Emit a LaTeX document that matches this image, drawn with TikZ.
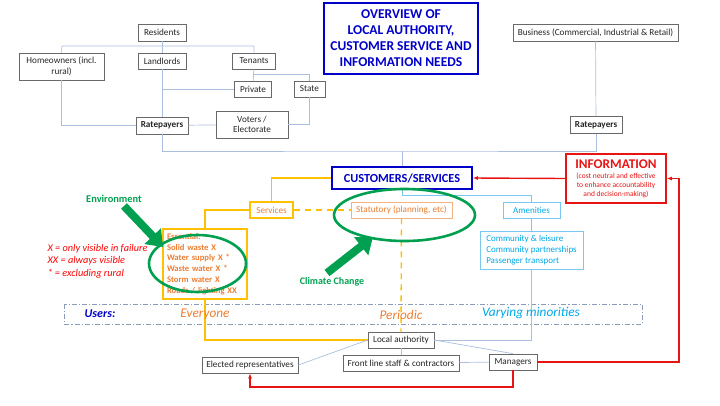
\documentclass[tikz,border=0pt]{standalone}
\usepackage{fontspec}
\setmainfont{Carlito}
\usetikzlibrary{arrows.meta}
\definecolor{linkblue}{RGB}{172,190,222}
\definecolor{boxgrey}{RGB}{105,105,105}
\definecolor{titleblue}{RGB}{0,0,200}
\definecolor{infored}{RGB}{232,20,20}
\definecolor{servyellow}{RGB}{255,192,0}
\definecolor{servorange}{RGB}{237,125,49}
\definecolor{statorange}{RGB}{244,177,131}
\definecolor{ameniblue}{RGB}{0,168,232}
\definecolor{amenibox}{RGB}{120,200,240}
\definecolor{ringgreen}{RGB}{0,160,80}
\definecolor{usersgrey}{RGB}{140,155,185}
\tikzset{
    plain box/.style={
        draw=boxgrey, line width=0.7pt, fill=white, text=black!85,
        inner sep=1pt, minimum height=16pt, align=center,
        font=\fontsize{9.2}{10.5}\selectfont
    },
    head box/.style={
        draw=titleblue, line width=1.6pt, fill=white, text=titleblue,
        align=center, font=\bfseries\fontsize{13.5}{16}\selectfont
    },
    info box/.style={
        draw=infored, line width=1.6pt, fill=white, text=infored,
        align=center, inner sep=2pt, font=\fontsize{7.5}{9}\selectfont
    },
    serv box/.style={
        draw=servyellow, line width=1.3pt, fill=white, text=servorange,
        inner sep=1pt, minimum height=16pt, font=\fontsize{9.2}{10.5}\selectfont
    },
    stat box/.style={
        draw=statorange, line width=0.7pt, fill=white, text=servorange,
        inner sep=1pt, minimum height=16pt, font=\fontsize{9.2}{10.5}\selectfont
    },
    amen box/.style={
        draw=amenibox, line width=0.8pt, fill=white, text=ameniblue,
        inner sep=1pt, minimum height=16pt, font=\fontsize{9}{10.7}\selectfont
    },
    link/.style={draw=linkblue, line width=0.7pt},
    amen link/.style={draw=amenibox, line width=0.8pt},
    serv link/.style={draw=servyellow, line width=1.4pt},
    stat link/.style={draw=servyellow, line width=1.4pt, dash pattern=on 6pt off 5pt},
    info link/.style={draw=infored, line width=1.4pt, -{Latex[length=5pt,width=4pt]}},
    green ring/.style={draw=ringgreen, line width=2.6pt},
    green push/.style={draw=ringgreen, line width=8pt,
        -{Triangle[width=22pt,length=15pt]}},
    green label/.style={text=ringgreen, font=\bfseries\fontsize{10.4}{12}\selectfont},
    users text/.style={font=\itshape\fontsize{13.3}{15}\selectfont}
}

\begin{document}
\begin{tikzpicture}[x=1pt,y=-1pt]
\useasboundingbox (0,0) rectangle (720,405);

% customer groups
\node[plain box, minimum width=48pt, minimum height=17pt] (residents) at (162,32.5) {Residents};
\node[plain box, minimum width=85pt, minimum height=27pt] (homeowners) at (61.5,66.5) {Homeowners (incl.\\rural)};
\node[plain box, minimum width=48pt] (landlords) at (162,61) {Landlords};
\node[plain box, minimum width=43pt] (tenants) at (254,61) {Tenants};
\node[plain box, minimum width=37pt] (private) at (253,89) {Private};
\node[plain box, minimum width=31pt] (state) at (309.5,89) {State};
\node[plain box, minimum width=52pt, minimum height=17pt, font=\bfseries\fontsize{9.2}{10.5}\selectfont] (ratesleft) at (162,125.5) {Ratepayers};
\node[plain box, minimum width=72pt, minimum height=27pt] (voters) at (252,124.5) {Voters /\\Electorate};
\node[plain box, minimum width=165pt, minimum height=17pt] (business) at (595.5,32.5) {Business (Commercial, Industrial \& Retail)};
\node[plain box, minimum width=52pt, minimum height=17pt, font=\bfseries\fontsize{9.2}{10.5}\selectfont] (ratesright) at (596,125) {Ratepayers};

\node[head box, minimum width=154pt, minimum height=71pt] (title) at (401,38.5)
    {OVERVIEW OF\\LOCAL AUTHORITY,\\CUSTOMER SERVICE AND\\INFORMATION NEEDS};

\coordinate (homebus) at (62,46);
\coordinate (tenfork) at (253.5,74);
\coordinate (ratebus) at (402,151);
\draw[link] (homeowners.north) -- (homebus) -| (tenants.north);
\draw[link] (residents) -- (landlords);
\draw[link] (landlords) -- (ratesleft);
\draw[link] (tenants) -- (private);
\draw[link] (tenfork) -| (state.north);
\draw[link] (private.west) -- (private.west -| landlords.south);
\draw[link] (homeowners.south) |- (ratesleft.west);
\draw[link] (ratesleft) -- (voters);
\draw[link] (voters.east) -| (state.south);
\draw[link] (ratesleft.south) |- (ratebus) -| (ratesright.south);
\draw[link] (business) -- (ratesright);

% services
\node[head box, font=\bfseries\fontsize{12.3}{14}\selectfont, minimum width=140pt, minimum height=22pt] (customers) at (402,178) {CUSTOMERS/SERVICES};
\draw[link] (ratebus) -- (customers.north);
\node[info box, minimum width=100pt, minimum height=49pt] (info) at (616,178.5)
    {{\bfseries\fontsize{13.3}{15}\selectfont INFORMATION}\\[1pt]
     (cost neutral and effective\\
     to enhance accountability\\
     and decision-making)};
\node[serv box, minimum width=43pt] (services) at (271.5,210) {Services};
\node[stat box, minimum width=101pt] (statutory) at (401.5,210) {Statutory (planning, etc)};
\node[amen box, minimum width=57pt] (amenities) at (531.5,210) {Amenities};
\node[amen box, minimum width=103pt, minimum height=38pt, align=left, inner sep=3pt] (community) at (531.5,250)
    {Community \& leisure\\Community partnerships\\Passenger transport};
\node[serv box, text width=76pt, minimum height=70pt, align=left, inner sep=4pt,
      font=\bfseries\fontsize{8.6}{10.7}\selectfont] (essential) at (205,264)
    {Essential:\\Solid waste X\\Water supply X *\\Waste water X *\\Storm water X\\Roads / lighting XX};

% staff
\node[plain box, minimum width=66pt] (local) at (401,340) {Local authority};
\node[plain box, minimum width=116pt] (frontline) at (401,363) {Front line staff \& contractors};
\node[plain box, minimum width=48pt] (managers) at (513,362) {Managers};
\node[plain box, minimum width=96pt] (elected) at (250,365) {Elected representatives};

% users band
\draw[draw=usersgrey, line width=0.8pt, dash pattern=on 5pt off 2pt on 1.2pt off 2pt] (64,304) rectangle (642,324);

\coordinate (amenfork) at (402,195);
\draw[amen link] (customers.south) -- (amenfork) -| (amenities.north);
\draw[amen link] (amenities) -- (community);
\draw[link] (community.south) |- (local.east);
\draw[serv link] (customers.west) -| (services.north);
\draw[serv link] (services.west) -| (essential.north);
\draw[serv link] (essential.south) |- (local.west);
\draw[stat link] (services.east) -- (statutory.west);
\draw[stat link] (statutory.south) -- (local.north);
\draw[link] (local.west) -- (elected.east);
\draw[link] (local) -- (frontline);
\draw[link] (frontline) -- (managers);
\draw[link] (local.east) -- (managers.north);

\node[font=\bfseries\itshape\fontsize{12}{14}\selectfont, text=titleblue] (users) at (100,314) {Users:};
\node[users text, text=servorange] (everyone) at (205,314) {Everyone};
\node[users text, text=servorange] (periodic) at (401,315) {Periodic};
\node[users text, text=ameniblue] (minorities) at (531,313) {Varying minorities};

% information flow
\coordinate (infocorner) at (679,178.5);
\coordinate (electedfoot) at (250,387);
\draw[info link] (info.west) -- (customers.east);
\draw[info link] (managers.east) -| (infocorner) -- (info.east);
\draw[info link] (managers.south) |- (electedfoot) -- (elected.south);

% pressures
\draw[green ring] (197.5,263.5) ellipse [x radius=48.5, y radius=28.5];
\draw[green ring] (404.5,215) ellipse [x radius=70.5, y radius=26];
\draw[green push] (124,206) -- (163,247);
\draw[green push] (327,273) -- (373,237);
\node[green label] (environment) at (114,199) {Environment};
\node[green label, font=\bfseries\fontsize{10}{12}\selectfont] (climate) at (332,282) {Climate Change};

\node[text=red, align=left, anchor=west, font=\itshape\fontsize{10.3}{12.5}\selectfont] (legend) at (44,261)
    {X = only visible in failure\\XX = always visible\\* = excluding rural};
\end{tikzpicture}
\end{document}
